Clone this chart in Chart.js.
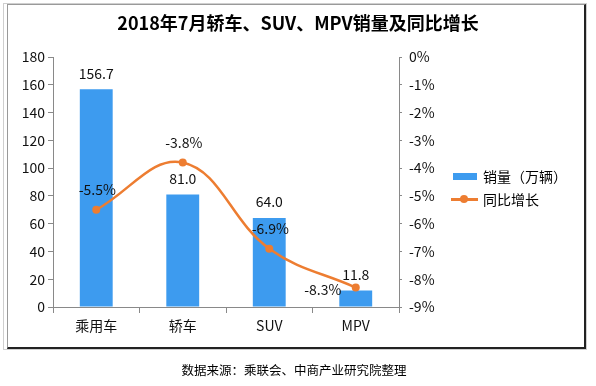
<!DOCTYPE html>
<html>
<head>
<meta charset="utf-8">
<script src="https://cdn.jsdelivr.net/npm/chart.js@4/dist/chart.umd.min.js"></script>
<style>
  html, body { margin:0; padding:0; background:#fff; }
  body { width:596px; height:386px; position:relative; overflow:hidden; font-family:"Noto Sans CJK SC","Noto Sans",sans-serif; }
  #outer { position:absolute; left:3px; top:3px; width:584px; height:347px; border:1px solid #cfcfcf; box-sizing:border-box; }
  #inner { position:absolute; left:7px; top:4px; width:579px; height:345px; border-left:1px solid #9a9a9a; border-top:1px solid #9a9a9a; border-right:2px solid #222; border-bottom:2px solid #222; box-sizing:border-box; }
  #title { position:absolute; left:0; width:596px; top:10px; text-align:center; font-size:18px; font-weight:bold; color:#000; line-height:24px; }
  #footer { position:absolute; left:0; width:588px; top:361px; text-align:center; font-size:12.5px; color:#000; line-height:18px; }
  #chartWrap { position:absolute; left:0; top:0; width:596px; height:386px; }
  .leg { position:absolute; font-size:14px; color:#000; line-height:18px; }
</style>
</head>
<body>
<div id="outer"></div>
<div id="inner"></div>
<div id="chartWrap"><canvas id="c" width="596" height="386"></canvas></div>
<div id="title">2018年7月轿车、SUV、MPV销量及同比增长</div>
<div id="legend"></div>
<div id="footer">数据来源：乘联会、中商产业研究院整理</div>
<script>
const categories = ["乘用车", "轿车", "SUV", "MPV"];
const salesValues = [156.7, 81.0, 64.0, 11.8];
const growthValues = [-5.5, -3.8, -6.9, -8.3];
const salesLabel = "销量（万辆）";
const growthLabel = "同比增长";

const BLUE = "#3d9bef";
const ORANGE = "#ed7d31";
const FONT = '"Noto Sans CJK SC","Noto Sans",sans-serif';

// HTML legend
const legend = document.getElementById('legend');
legend.innerHTML =
  '<div style="position:absolute;left:453px;top:173px;width:24px;height:7px;background:'+BLUE+'"></div>' +
  '<div class="leg" style="left:483px;top:167px;">'+salesLabel+'</div>' +
  '<div style="position:absolute;left:451px;top:198px;width:27px;height:2.5px;background:'+ORANGE+'"></div>' +
  '<div style="position:absolute;left:460px;top:195px;width:8px;height:8px;border-radius:50%;background:'+ORANGE+'"></div>' +
  '<div class="leg" style="left:483px;top:190px;">'+growthLabel+'</div>';

const labelPlugin = {
  id: 'valueLabels',
  afterDatasetsDraw(chart) {
    const ctx = chart.ctx;
    ctx.save();
    ctx.font = '14px ' + FONT;
    ctx.fillStyle = '#111';
    ctx.textBaseline = 'middle';
    ctx.textAlign = 'center';
    const barMeta = chart.getDatasetMeta(0);
    barMeta.data.forEach((el, i) => {
      ctx.fillText(salesValues[i].toFixed(1), el.x, el.y - 16);
    });
    const lineMeta = chart.getDatasetMeta(1);
    lineMeta.data.forEach((el, i) => {
      const txt = growthValues[i].toFixed(1) + '%';
      if (i === growthValues.length - 1) {
        ctx.fillText(txt, el.x - 33, el.y + 2);
      } else {
        ctx.fillText(txt, el.x + 1, el.y - 20);
      }
    });
    ctx.restore();
  }
};

new Chart(document.getElementById('c'), {
  type: 'bar',
  data: {
    labels: categories,
    datasets: [
      {
        type: 'bar',
        label: salesLabel,
        data: salesValues,
        backgroundColor: BLUE,
        yAxisID: 'y',
        categoryPercentage: 1.0,
        barPercentage: 0.38,
        order: 2
      },
      {
        type: 'line',
        label: growthLabel,
        data: growthValues,
        borderColor: ORANGE,
        backgroundColor: ORANGE,
        borderWidth: 2.5,
        pointRadius: 4,
        pointBackgroundColor: ORANGE,
        pointBorderWidth: 0,
        tension: 0.4,
        yAxisID: 'y1',
        order: 1
      }
    ]
  },
  options: {
    responsive: false,
    animation: false,
    events: [],
    layout: { padding: { left: 0, right: 0, top: 57, bottom: 49 } },
    plugins: {
      legend: { display: false },
      title: { display: false },
      tooltip: { enabled: false }
    },
    scales: {
      x: {
        offset: true,
        grid: { offset: true, drawOnChartArea: false, drawTicks: true, tickLength: 6, color: '#898989' },
        border: { display: true, color: '#898989', width: 1 },
        ticks: { color: '#111', font: { size: 14, family: FONT }, padding: 4, maxRotation: 0 },
        afterFit(s) { s.height = 30; }
      },
      y: {
        position: 'left',
        min: 0, max: 180,
        ticks: { stepSize: 20, color: '#111', font: { size: 14, family: FONT }, padding: 3 },
        grid: { drawOnChartArea: false, drawTicks: true, tickLength: 5, color: '#898989' },
        border: { display: true, color: '#898989', width: 1 },
        afterFit(s) { s.width = 53; }
      },
      y1: {
        position: 'right',
        min: -9, max: 0,
        ticks: { stepSize: 1, color: '#111', font: { size: 14, family: FONT }, padding: 7,
                 callback: v => v + '%' },
        grid: { drawOnChartArea: false, drawTicks: true, tickLength: 3, color: '#898989' },
        border: { display: true, color: '#898989', width: 1 },
        afterFit(s) { s.width = 197; }
      }
    }
  },
  plugins: [labelPlugin]
});
</script>
</body>
</html>
